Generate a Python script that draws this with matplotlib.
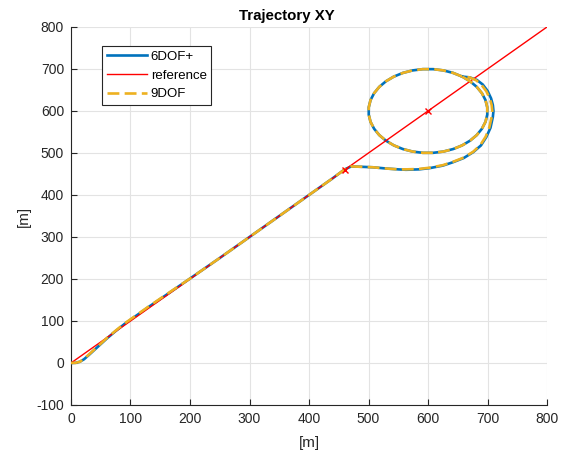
import matplotlib
matplotlib.use("Agg")
import matplotlib.pyplot as plt

plt.rcParams['font.family'] = ['Liberation Sans', 'DejaVu Sans']
plt.rcParams['axes.unicode_minus'] = False

# Reference line (y = x)
ref_x = [0, 800]
ref_y = [0, 800]
# Reference markers
mark_x = [460, 600]
mark_y = [460, 600]

# Loop part shared by both estimates
loop_x = [657.4, 642.3, 625.9, 608.7, 591.3, 574.1, 557.7, 542.6, 529.3, 518.1, 509.4, 503.4,
          500.4, 500.4, 503.4, 509.4, 518.1, 529.3, 542.6, 557.7, 574.1, 591.3, 608.7, 625.9,
          642.3, 657.4, 670.7, 681.9, 690.6, 696.6, 699.6, 699.6, 696.6, 690.6, 681.9, 670.7, 657.4]
loop_y = [681.9, 690.6, 696.6, 699.6, 699.6, 696.6, 690.6, 681.9, 670.7, 657.4, 642.3, 625.9,
          608.7, 591.3, 574.1, 557.7, 542.6, 529.3, 518.1, 509.4, 503.4, 500.4, 500.4, 503.4,
          509.4, 518.1, 529.3, 542.6, 557.7, 574.1, 591.3, 608.7, 625.9, 642.3, 657.4, 670.7, 681.9]

# 6DOF+ trajectory
dof6_x = [0, 8, 15, 22, 30, 40, 50, 60, 75, 90, 110, 130, 160, 200, 250, 300, 350, 400, 440, 460,
          471, 490, 507, 530, 550, 563, 585, 603, 625, 642, 660, 676, 689, 698, 705, 709, 710, 709,
          706, 700, 692, 682, 670] + loop_x
dof6_y = [0, 0.5, 3, 9, 19, 32, 45, 58, 76, 93, 113, 133, 162, 201, 250, 300, 350, 400, 440, 461,
          468, 467, 466, 463, 461, 460, 461, 464, 470, 478, 488, 502, 518, 538, 560, 586, 600, 614,
          630, 648, 663, 674, 680] + loop_y

# 9DOF trajectory
dof9_x = [0, 8, 15, 22, 30, 40, 50, 60, 75, 90, 110, 130, 160, 200, 250, 300, 350, 400, 440, 460,
          471, 490, 507, 530, 550, 563, 585, 603, 625, 642, 660, 676, 688, 697, 703, 707, 708, 707,
          704, 698, 690, 681, 670] + loop_x
dof9_y = [0, 0.5, 3, 10, 20, 33, 46, 59, 77, 94, 114, 134, 163, 201, 250, 300, 350, 400, 440, 461,
          468, 467, 466, 463, 461, 461, 462, 465, 471, 479, 489, 503, 519, 539, 561, 586, 600, 614,
          629, 647, 662, 673, 680] + loop_y

xticks = [0, 100, 200, 300, 400, 500, 600, 700, 800]
yticks = [-100, 0, 100, 200, 300, 400, 500, 600, 700, 800]

fig = plt.figure(figsize=(5.63, 4.55), dpi=100)
ax = fig.add_axes([0.1261, 0.1099, 0.8455, 0.8308])

l1, = ax.plot(dof6_x, dof6_y, color='#0072BD', lw=1.9, label='6DOF+', zorder=3)
l2, = ax.plot(ref_x, ref_y, color='#FF0000', lw=1.0, label='reference', zorder=4)
ax.plot(mark_x, mark_y, linestyle='none', marker='x', color='#FF0000', ms=5, mew=1.0, zorder=5)
l3, = ax.plot(dof9_x, dof9_y, color='#EDB120', lw=1.9, ls=(0, (4.5, 2)), label='9DOF', zorder=4)

ax.set_xlim(0, 800)
ax.set_ylim(-100, 800)
ax.set_xticks(xticks)
ax.set_yticks(yticks)
ax.grid(True, color='#e3e3e3', lw=0.8)
ax.set_axisbelow(True)
for s in ['top', 'right']:
    ax.spines[s].set_visible(False)
for s in ['left', 'bottom']:
    ax.spines[s].set_color('#262626')
    ax.spines[s].set_linewidth(0.8)
ax.tick_params(direction='in', length=4, width=0.8, color='#262626',
               labelcolor='#262626', labelsize=10, pad=5)

ax.set_title('Trajectory XY', fontsize=10.8, fontweight='bold', pad=5, x=0.453)
ax.set_xlabel('[m]', fontsize=11, color='#262626', labelpad=7)
ax.set_ylabel('[m]', fontsize=11, color='#262626', labelpad=4)

leg = ax.legend(handles=[l1, l2, l3], loc='upper left', bbox_to_anchor=(0.065, 0.95),
                borderaxespad=0, fancybox=False, edgecolor='#262626', framealpha=1,
                fontsize=9.5, handlelength=3.1, handletextpad=0.25, labelspacing=0.5,
                borderpad=0.35)
leg.get_frame().set_linewidth(0.8)

fig.savefig('out.png', dpi=100)
